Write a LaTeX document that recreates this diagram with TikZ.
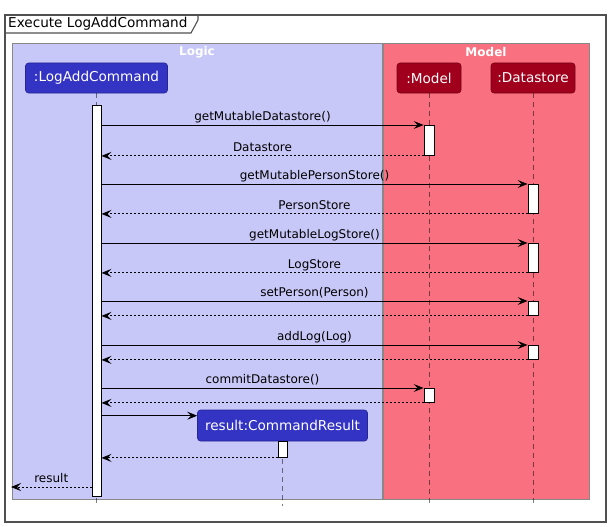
\documentclass[tikz,border=0pt]{standalone}
\usepackage{fontspec}
\setmainfont{DejaVu Sans}
\usetikzlibrary{arrows.meta}
\definecolor{logicbg}{RGB}{200,200,248}
\definecolor{modelbg}{RGB}{249,113,128}
\definecolor{pblue}{RGB}{51,51,196}
\definecolor{pred}{RGB}{160,0,28}
\definecolor{framegray}{RGB}{80,80,80}
\definecolor{boxgray}{RGB}{136,136,136}
\begin{document}
\begin{tikzpicture}[x=1pt,y=-1pt,
 msg/.style={-{Stealth[length=10pt,width=8pt,inset=4pt]}, line width=0.9pt, black},
 ret/.style={msg, dash pattern=on 2pt off 2pt},
 mlabel/.style={anchor=base, yshift=4.5pt, inner sep=0pt, font=\fontsize{12}{14}\selectfont},
 part/.style={rounded corners=3pt, text=white, font=\fontsize{13.6}{16}\selectfont, minimum height=30pt, inner sep=0pt, line width=0.6pt},
 act/.style={draw=black, fill=white, line width=0.9pt, minimum width=10pt, inner sep=0pt, anchor=north},
 life/.style={draw=black, draw opacity=0.5, line width=0.8pt, dash pattern=on 5pt off 4pt},
 group/.style={draw=boxgray, line width=0.8pt, inner sep=0pt, anchor=north west},
 gtitle/.style={text=white, font=\bfseries\fontsize{12}{14}\selectfont}
]
\useasboundingbox (0,0) rectangle (610,527);
% frame
\draw[framegray, line width=1.1pt] (5,15) rectangle (606,522);
\draw[framegray, line width=1.1pt] (5,33) -- (191,33) -- (198,20) -- (198,15);
\node[anchor=west, inner sep=0pt, font=\fontsize{13.6}{16}\selectfont] (ttl) at (8,24) {Execute LogAddCommand};
% groups
\node[group, fill=logicbg, minimum width=370pt, minimum height=456pt] (logic) at (12,43) {};
\node[group, fill=modelbg, minimum width=206pt, minimum height=456pt] (model) at (383,43) {};
\node[gtitle] (logict) at (197,52.5) {Logic};
\node[gtitle] (modelt) at (486,52.5) {Model};
% participants
\node[part, fill=pblue, draw=pblue!75!black, minimum width=142pt] (lac) at (96.5,78) {:LogAddCommand};
\node[part, fill=pred, draw=pred!75!black, minimum width=64pt] (mdl) at (429,78) {:Model};
\node[part, fill=pred, draw=pred!75!black, minimum width=84pt] (ds) at (533,78) {:Datastore};
\node[part, fill=pblue, draw=pblue!75!black, minimum width=170pt, minimum height=31pt] (cr) at (282.5,425.5) {result:CommandResult};
% lifelines
\coordinate (bottom) at (0,506);
\draw[life] (lac.south) -- (lac.south |- bottom);
\draw[life] (mdl.south) -- (mdl.south |- bottom);
\draw[life] (ds.south) -- (ds.south |- bottom);
\draw[life] (cr.south) -- (cr.south |- bottom);
% activations
\node[act, minimum width=9pt, minimum height=391pt] (la) at (96.5,105) {};
\node[act, minimum height=30pt] (m1) at (429,125) {};
\node[act, minimum height=29pt] (d1) at (533,184) {};
\node[act, minimum height=29pt] (d2) at (533,243) {};
\node[act, minimum height=14pt] (d3) at (533,301) {};
\node[act, minimum height=14pt] (d4) at (533,345) {};
\node[act, minimum height=14pt] (m2) at (429,388) {};
\node[act, minimum width=9pt, minimum height=16pt] (c1) at (282.5,441) {};
% messages
\draw[msg] (la.east |- m1.north) -- node[mlabel]{getMutableDatastore()} (m1.north west);
\draw[ret] (m1.south west) -- node[mlabel]{Datastore} (la.east |- m1.south);
\draw[msg] (la.east |- d1.north) -- node[mlabel]{getMutablePersonStore()} (d1.north west);
\draw[ret] (d1.south west) -- node[mlabel]{PersonStore} (la.east |- d1.south);
\draw[msg] (la.east |- d2.north) -- node[mlabel]{getMutableLogStore()} (d2.north west);
\draw[ret] (d2.south west) -- node[mlabel]{LogStore} (la.east |- d2.south);
\draw[msg] (la.east |- d3.north) -- node[mlabel]{setPerson(Person)} (d3.north west);
\draw[ret] (d3.south west) -- (la.east |- d3.south);
\draw[msg] (la.east |- d4.north) -- node[mlabel]{addLog(Log)} (d4.north west);
\draw[ret] (d4.south west) -- (la.east |- d4.south);
\draw[msg] (la.east |- m2.north) -- node[mlabel]{commitDatastore()} (m2.north west);
\draw[ret] (m2.south west) -- (la.east |- m2.south);
\coordinate (crin) at ([yshift=-6pt]cr.north west);
\draw[msg] (la.east |- crin) -- (crin);
\draw[ret] (c1.south west) -- (la.east |- c1.south);
\coordinate (resend) at (11,487);
\draw[ret] (la.west |- resend) -- node[mlabel]{result} (resend);
\end{tikzpicture}
\end{document}
